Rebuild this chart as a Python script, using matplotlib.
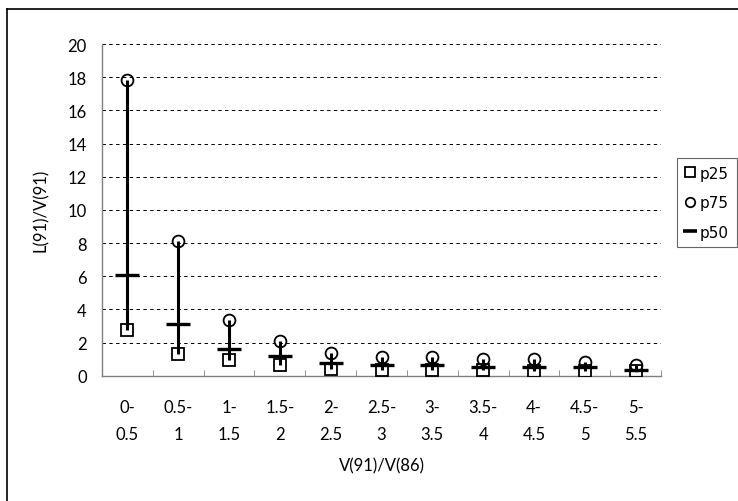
import matplotlib
matplotlib.use('Agg')
import matplotlib.pyplot as plt
from matplotlib.lines import Line2D
import numpy as np

# percentiles of L(91)/V(91) per V(91)/V(86) class
categories = ['0-\n0.5', '0.5-\n1', '1-\n1.5', '1.5-\n2', '2-\n2.5', '2.5-\n3',
              '3-\n3.5', '3.5-\n4', '4-\n4.5', '4.5-\n5', '5-\n5.5']
p25 = [2.75, 1.3, 0.95, 0.65, 0.4, 0.35, 0.35, 0.35, 0.3, 0.3, 0.3]
p75 = [17.8, 8.1, 3.35, 2.07, 1.35, 1.14, 1.14, 1.0, 1.0, 0.85, 0.65]
p50 = [6.1, 3.14, 1.6, 1.2, 0.75, 0.62, 0.62, 0.55, 0.52, 0.52, 0.36]

plt.rcParams['font.family'] = ['Lato', 'DejaVu Sans']

fig = plt.figure(figsize=(7.38, 5.02), dpi=100)
W, H = 738, 502
ax = fig.add_axes([102 / W, (H - 376.7) / H, (661 - 102) / W, (376.7 - 45) / H])

x = np.arange(len(categories))
ax.vlines(x, p25, p75, colors='black', linewidth=2.2, zorder=3)
ax.plot(x, p25, linestyle='none', marker='s', markersize=8.5, fillstyle='none',
        markeredgecolor='black', markeredgewidth=1.3, label='p25', zorder=4)
ax.plot(x, p75, linestyle='none', marker='o', markersize=8.5, fillstyle='none',
        markeredgecolor='black', markeredgewidth=1.3, label='p75', zorder=4)
ax.plot(x, p50, linestyle='none', marker='_', markersize=17,
        markeredgecolor='black', markeredgewidth=2.4, label='p50', zorder=4)

ax.set_xlim(-0.5, len(categories) - 0.5)
ax.set_ylim(0, 20)
ax.set_yticks(np.arange(0, 21, 2))
ax.set_xticks(x)
ax.set_xticklabels(categories, fontsize=12, linespacing=1.85)
ax.set_xticks(np.arange(-0.5, len(categories), 1), minor=True)
ax.tick_params(axis='x', which='major', length=0, pad=17)
ax.tick_params(axis='x', which='minor', direction='in', length=4, color='#808080')
ax.tick_params(axis='y', length=0, pad=11, labelsize=12)

ax.grid(axis='y', color='black', linestyle=(0, (3.5, 3.5)), linewidth=0.7)
ax.set_axisbelow(True)
for s in ['top', 'right']:
    ax.spines[s].set_visible(False)
for s in ['left', 'bottom']:
    ax.spines[s].set_color('#808080')
    ax.spines[s].set_linewidth(1)

ax.set_xlabel('V(91)/V(86)', fontsize=12, labelpad=11)
ax.set_ylabel('L(91)/V(91)', fontsize=12, labelpad=13)

leg = ax.legend(loc='upper left', bbox_to_anchor=(677 / W, 1 - 159 / H),
                bbox_transform=fig.transFigure, frameon=True, fancybox=False,
                edgecolor='#404040', handlelength=0.7, handletextpad=0.3,
                borderpad=0.5, labelspacing=0.95, borderaxespad=0,
                markerscale=0.8, prop={'family': 'DejaVu Sans', 'size': 11})
leg.get_frame().set_linewidth(0.8)
# shorter dash for p50 in the legend
leg.legend_handles[2].set_markersize(10)
leg.legend_handles[2].set_markeredgewidth(2.6)

# outer chart frame
fig.add_artist(Line2D([7 / W, 7 / W], [0, 1 - 10 / H], transform=fig.transFigure,
                      color='black', linewidth=1.2))
fig.add_artist(Line2D([7 / W, 1], [1 - 10 / H, 1 - 10 / H], transform=fig.transFigure,
                      color='black', linewidth=1.2))

fig.savefig('out.png', dpi=100)
